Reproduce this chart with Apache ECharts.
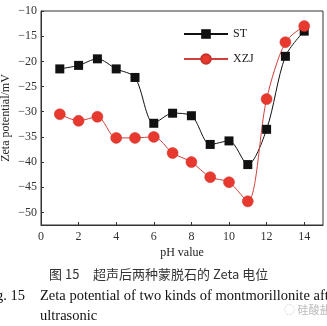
<!DOCTYPE html>
<html><head><meta charset="utf-8">
<script src="https://cdn.jsdelivr.net/npm/echarts@6/dist/echarts.min.js"></script>
<style>html,body{margin:0;padding:0;background:#fff}#c{width:327px;height:326px}</style>
</head><body><div id="c"></div>
<script>
const phValues = [1,2,3,4,5,6,7,8,9,10,11,12,13,14];
const stValues = [-21.5,-20.8,-19.5,-21.5,-23.2,-32.3,-30.3,-30.8,-36.5,-35.8,-40.5,-33.5,-19,-14];
const xzjValues = [-30.5,-31.8,-31,-35.2,-35.2,-35,-38.2,-40,-43,-44,-47.8,-27.5,-16.2,-13];
const xTicks = [0,2,4,6,8,10,12,14];
const yTicks = [-10,-15,-20,-25,-30,-35,-40,-45,-50];
const serif = 'Liberation Serif';
const chart = echarts.init(document.getElementById('c'));
chart.setOption({
  animation:false,
  backgroundColor:'#fff',
  grid:{left:41,right:4,top:11,bottom:101,outerBoundsMode:'none',containLabel:false,show:true,borderColor:'#333',borderWidth:1,backgroundColor:'transparent'},
  legend:{
    orient:'vertical', left:178, top:23, itemGap:13, itemWidth:44, itemHeight:12,
    textStyle:{fontFamily:serif,fontSize:12,color:'#222'},
    data:['ST','XZJ']
  },
  xAxis:{type:'value',min:0,max:15,interval:1,
    axisLine:{lineStyle:{color:'#333',width:1}},
    axisTick:{inside:true,length:3,lineStyle:{color:'#333'},customValues:xTicks},
    splitLine:{show:false},
    axisLabel:{fontFamily:serif,fontSize:12,color:'#333',margin:6,customValues:xTicks},
    name:'pH value',nameLocation:'middle',nameGap:22,nameMoveOverlap:false,
    nameTextStyle:{fontFamily:serif,fontSize:12,color:'#222'}
  },
  yAxis:{type:'value',min:-52.5,max:-10,interval:2.5,
    axisLine:{show:true,lineStyle:{color:'#333',width:1}},
    axisTick:{show:true,inside:true,length:3,lineStyle:{color:'#333'},customValues:yTicks},
    splitLine:{show:false},
    axisLabel:{fontFamily:serif,fontSize:12,color:'#333',margin:4,customValues:yTicks,
      formatter:v=> String(v).replace('-','\u2212')},
    name:'Zeta potential/mV',nameLocation:'middle',nameGap:29,nameMoveOverlap:false,
    nameTextStyle:{fontFamily:serif,fontSize:12,color:'#222'}
  },
  series:[
    {name:'ST',type:'line',data:phValues.map((x,i)=>[x,stValues[i]]),
     smooth:0.3,symbol:'rect',symbolSize:9,
     lineStyle:{color:'#111',width:1},itemStyle:{color:'#111'}},
    {name:'XZJ',type:'line',data:phValues.map((x,i)=>[x,xzjValues[i]]),
     smooth:0.3,symbol:'circle',symbolSize:11,
     lineStyle:{color:'#d0403a',width:1},itemStyle:{color:'#e8392f',borderColor:'#c8302a',borderWidth:0.5}}
  ],
  graphic:[
    {type:'text',left:49,top:268,style:{text:'图 15',font:'13px "Noto Sans CJK SC"',fill:'#333'}},
    {type:'text',left:93,top:268,style:{text:'超声后两种蒙脱石的 Zeta 电位',font:'13px "Noto Sans CJK SC"',fill:'#333'}},
    {type:'text',left:-4,top:289,style:{text:'g. 15',font:'14.5px "Liberation Serif"',fill:'#111'}},
    {type:'text',left:40,top:289,style:{text:'Zeta potential of two kinds of montmorillonite after',font:'14.5px "Liberation Serif"',fill:'#111'}},
    {type:'text',left:40,top:309,style:{text:'ultrasonic',font:'14.5px "Liberation Serif"',fill:'#111'}},
    {type:'text',left:284,top:304,style:{text:'◌ 硅酸盐',font:'11px "Noto Sans CJK SC"',fill:'#bbb'}}
  ]
});
</script></body></html>
